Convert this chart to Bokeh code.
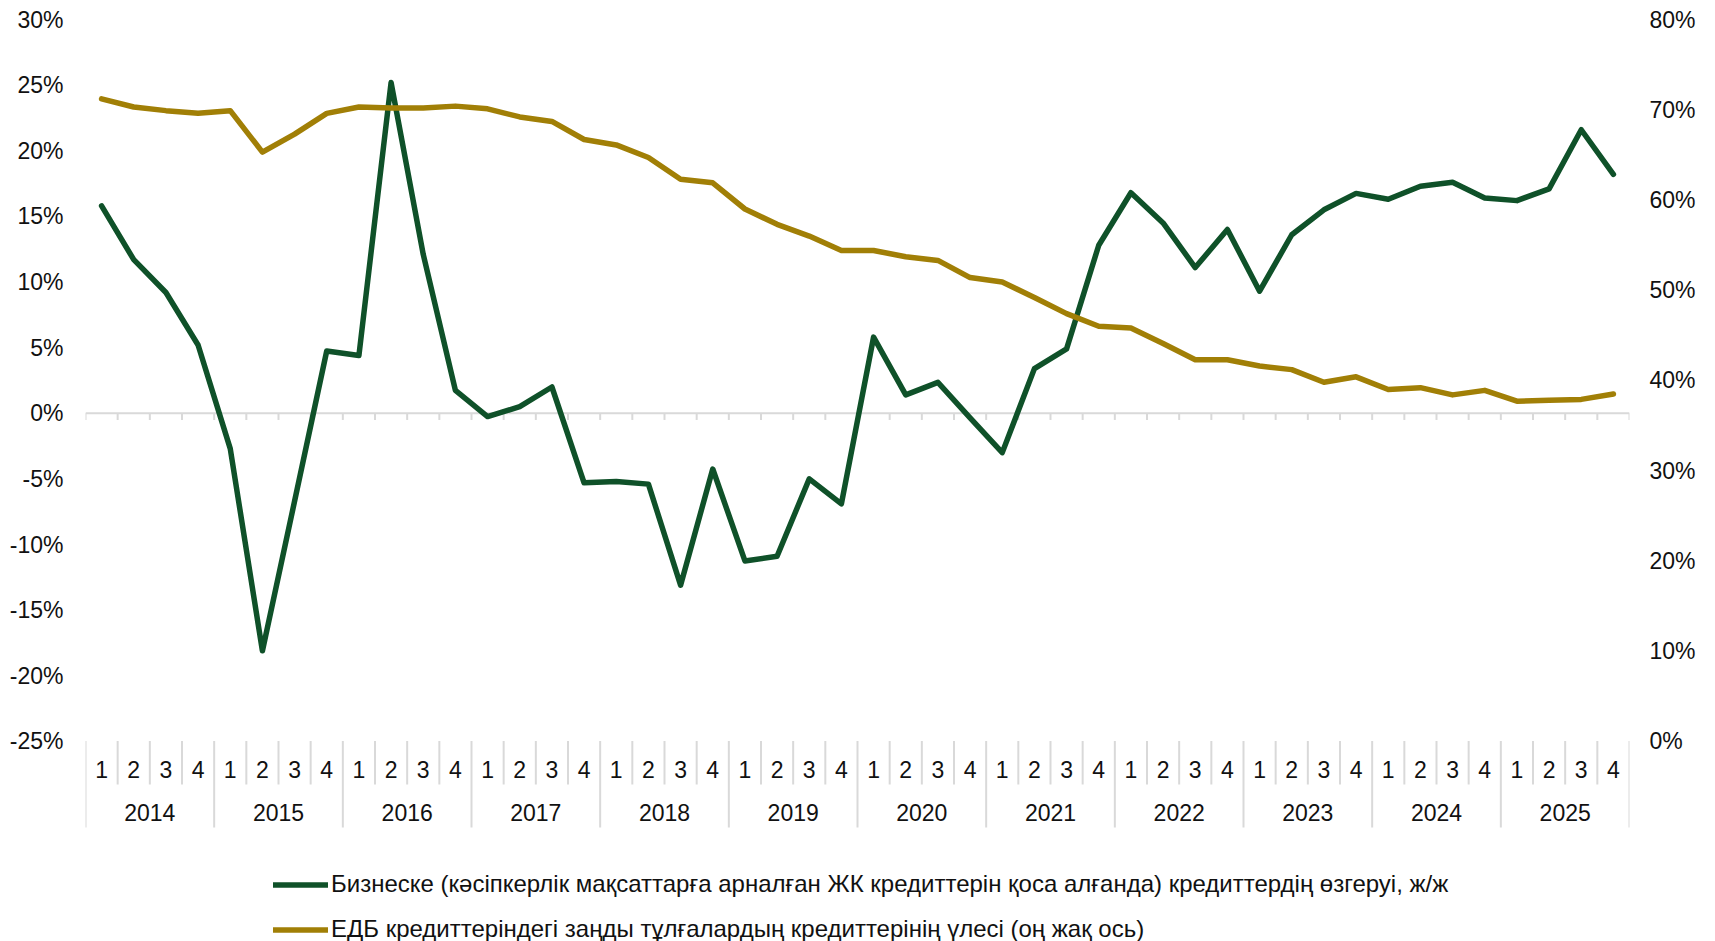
from bokeh.plotting import figure
from bokeh.models import (Range1d, LinearAxis, FixedTicker, PrintfTickFormatter,
                          Legend, LegendItem, ColumnDataSource)
from bokeh.core.properties import value
from bokeh.embed import file_html
from bokeh.resources import INLINE

# ---------------- data ----------------
years = ["2014", "2015", "2016", "2017", "2018", "2019",
         "2020", "2021", "2022", "2023", "2024", "2025"]
quarters = ["1", "2", "3", "4"]

# Change in loans to business (incl. IE loans for business purposes), y/y, %
business_growth = [
    15.8, 11.7, 9.2, 5.2,
    -2.7, -18.1, -6.7, 4.75,
    4.4, 25.2, 12.1, 1.75,
    -0.25, 0.5, 2.0, -5.3,
    -5.2, -5.4, -13.1, -4.25,
    -11.25, -10.9, -5.0, -6.9,
    5.8, 1.4, 2.35, -0.35,
    -3.0, 3.4, 4.9, 12.8,
    16.8, 14.5, 11.1, 14.0,
    9.3, 13.6, 15.5, 16.75,
    16.3, 17.3, 17.6, 16.4,
    16.2, 17.1, 21.6, 18.2,
]
# Share of legal entities' loans in banks' loans (right axis), %
legal_share = [
    71.2, 70.3, 69.9, 69.6,
    69.9, 65.3, 67.3, 69.6,
    70.3, 70.2, 70.2, 70.4,
    70.1, 69.2, 68.7, 66.7,
    66.1, 64.7, 62.3, 61.9,
    59.0, 57.3, 56.0, 54.4,
    54.4, 53.7, 53.3, 51.4,
    50.9, 49.2, 47.4, 46.0,
    45.8, 44.1, 42.3, 42.3,
    41.6, 41.2, 39.8, 40.4,
    39.0, 39.2, 38.4, 38.9,
    37.7, 37.8, 37.9, 38.5,
]

label_green = "Бизнеске (кәсіпкерлік мақсаттарға арналған ЖК кредиттерін қоса алғанда) кредиттердің өзгеруі, ж/ж"
label_gold = "ЕДБ кредиттеріндегі заңды тұлғалардың кредиттерінің үлесі (оң жақ ось)"

left_ticks = list(range(-25, 31, 5))
right_ticks = list(range(0, 81, 10))

# ---------------- layout ----------------
FONT = "Liberation Sans"
GREEN = "#0F5129"
GOLD = "#A17F06"
GRID = "#D9D9D9"
TXT = "#111111"

W, H = 1715, 941
top_border = 19
px_per_unit = 13.125           # pixels per 1 % on left axis
frame_h = H - top_border
y_end = 30
y_start = y_end - frame_h / px_per_unit


def page_to_y(page_y):
    return y_end - (page_y - top_border) / px_per_unit


def left_to_right(v):
    return (v + 25) * 80 / 55


n = len(years) * len(quarters)
xs = [i + 0.5 for i in range(n)]

p = figure(width=W, height=H, output_backend="svg", toolbar_location=None,
           x_range=Range1d(0, n), y_range=Range1d(y_start, y_end),
           x_axis_location=None,
           min_border_left=85, min_border_right=86,
           min_border_top=top_border, min_border_bottom=0)
p.grid.visible = False
p.outline_line_color = None
p.background_fill_color = "white"
p.border_fill_color = "white"

p.extra_y_ranges = {"right": Range1d(left_to_right(y_start), left_to_right(y_end))}

la = p.yaxis[0]
la.ticker = FixedTicker(ticks=left_ticks)
la.formatter = PrintfTickFormatter(format="%d%%")
ra = LinearAxis(y_range_name="right", ticker=FixedTicker(ticks=right_ticks),
                formatter=PrintfTickFormatter(format="%d%%"))
p.add_layout(ra, "right")
for ax in [la, ra]:
    ax.axis_line_color = None
    ax.major_tick_line_color = None
    ax.minor_tick_line_color = None
    ax.major_tick_out = 0
    ax.major_tick_in = 0
    ax.major_label_text_font = FONT
    ax.major_label_text_font_size = "23px"
    ax.major_label_text_color = TXT
la.major_label_standoff = 22
ra.major_label_standoff = 20

# zero line with tick marks
p.segment(x0=[0], y0=[0], x1=[n], y1=[0], line_color=GRID, line_width=2)
tick_len = 6.7 / px_per_unit
p.segment(x0=list(range(n + 1)), y0=[0] * (n + 1), x1=list(range(n + 1)),
          y1=[-tick_len] * (n + 1), line_color=GRID, line_width=2)

# category axis (quarters / years) with separators
sep_top = page_to_y(740.5)
q_bottom = page_to_y(784)
y_bottom = page_to_y(827)
q_sep_x = [i for i in range(n + 1) if i % 4 != 0]
y_sep_x = [i for i in range(n + 1) if i % 4 == 0]
p.segment(x0=q_sep_x, y0=[sep_top] * len(q_sep_x), x1=q_sep_x,
          y1=[q_bottom] * len(q_sep_x), line_color=GRID, line_width=2)
p.segment(x0=y_sep_x, y0=[sep_top] * len(y_sep_x), x1=y_sep_x,
          y1=[y_bottom] * len(y_sep_x), line_color=GRID, line_width=2)

q_labels = [q for _ in years for q in quarters]
p.text(x=xs, y=[page_to_y(769)] * n, text=q_labels,
       text_font=value(FONT), text_font_size="23px", text_color=TXT,
       text_align="center", text_baseline="middle")
yr_x = [i * 4 + 2 for i in range(len(years))]
p.text(x=yr_x, y=[page_to_y(811.5)] * len(years), text=years,
       text_font=value(FONT), text_font_size="23px", text_color=TXT,
       text_align="center", text_baseline="middle")

# series
src = ColumnDataSource(dict(x=xs, g=business_growth, s=legal_share))
r_green = p.line("x", "g", source=src, line_color=GREEN, line_width=5.5,
                 line_join="round", line_cap="round")
r_gold = p.line("x", "s", source=src, y_range_name="right", line_color=GOLD,
                line_width=5.5, line_join="round", line_cap="round")

legend = Legend(items=[LegendItem(label=label_green, renderers=[r_green]),
                       LegendItem(label=label_gold, renderers=[r_gold])],
                location=(188, -2), orientation="vertical",
                label_text_font=FONT, label_text_font_size="24px",
                label_text_color=TXT, glyph_width=55, glyph_height=27,
                label_height=27, label_standoff=3, spacing=17,
                padding=0, margin=0, border_line_color=None,
                background_fill_alpha=0)
p.add_layout(legend, "center")

open("out.html", "w").write(file_html(p, INLINE))
